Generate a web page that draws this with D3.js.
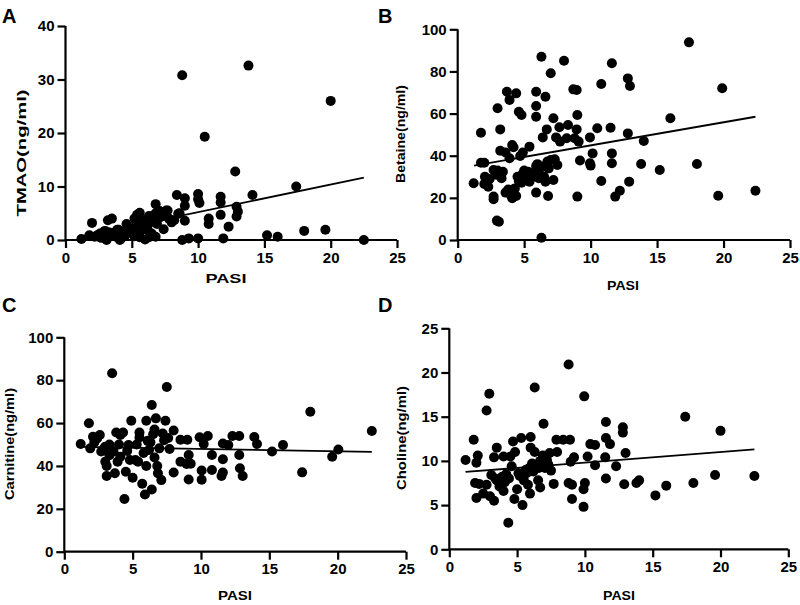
<!DOCTYPE html>
<html><head><meta charset="utf-8">
<script src="https://cdn.jsdelivr.net/npm/d3@7"></script>
<style>body{margin:0;background:#fff}svg{display:block}text{font-family:"Liberation Sans",Arial,sans-serif;font-weight:bold;fill:#000}</style>
</head><body><svg id="c" width="800" height="605"></svg>
<script>
// Panel A: TMAO vs PASI
const pasiA = [1.2,1.8,2.0,2.4,2.6,2.7,3.0,3.1,3.2,3.5,3.6,3.9,4.1,4.4,4.6,5.0,5.4,5.6,5.9,6.0,6.3,6.8,6.8,6.8,7.4,7.7,8.2,8.4,8.8,9.0,9.0,9.0,9.3,10.0,10.0,10.0,10.1,10.8,10.8,11.7,11.7,11.7,11.9,12.3,12.8,12.9,12.9,13.0,14.1,15.2,16.0,17.4,18.0,19.6,8.8,10.5,13.8,20.0,22.5,
 2.5,2.9,3.1,3.6,4.0,4.2,4.9,5.2,6.2,6.9,7.1,7.6,8.6,
 2.6,2.8,3.2,3.3,3.8,4.3,4.5,4.8,5.1,5.3,5.5,5.7,5.8,6.1,6.4,6.5,6.6,6.9,7.2,7.8,8.0,8.5,5.2,4.0,3.0,2.2,6.3,5.6];
const tmao = [0.2,0.9,3.2,0.9,1.2,0.4,1.7,0,3.7,4.0,1.2,1.9,0,1.2,3.0,1.9,4.7,5.1,3.7,0.1,4.5,5.0,6.7,0.6,2.0,5.5,3.7,8.4,0,7.8,6.4,3.6,0.3,8.6,7.6,0.3,6.9,4.0,3.0,8.1,7.0,4.7,0.3,2.5,12.8,6.2,4.4,5.3,8.4,0.9,0.6,10.0,1.7,1.9,30.8,19.3,32.6,26.0,0,
 0.9,1.6,0.5,1.3,1.9,0.3,1.6,0.7,1.9,4.7,5.4,5.5,5.0,
 0.5,1.0,0.8,1.4,0.6,1.5,0.8,2.3,1.3,2.5,3.3,1.8,2.8,2.3,3.3,1.2,4.0,3.0,4.3,4.0,3.3,4.9,4.0,1.0,1.0,0.6,0.5,0.5];
const fitA = [[1.2,0.69],[22.5,11.65]];
const ticksA = [0,10,20,30,40];

// Panel B: Betaine vs PASI
const pasiB = [1.2,1.75,1.75,2.0,2.05,2.0,2.3,2.7,2.7,2.7,3.0,2.95,3.1,3.2,3.2,3.1,3.3,3.4,3.6,3.7,3.6,3.9,3.9,4.0,4.1,4.1,4.2,4.3,4.4,4.4,4.6,4.7,4.8,4.8,4.9,4.9,5.4,5.3,5.4,5.6,5.9,5.9,5.9,5.9,5.9,6.1,6.1,6.3,6.3,6.4,6.4,6.6,6.6,6.7,6.75,6.8,6.85,7.0,7.2,7.2,7.3,7.4,7.5,7.65,7.7,8.0,8.2,8.3,8.7,8.8,8.95,8.95,9.0,9.0,9.1,9.2,9.95,9.95,10.0,10.15,10.5,10.8,10.8,11.5,11.6,11.6,11.6,11.85,12.2,12.8,12.8,12.96,12.9,14.0,13.8,15.2,16.0,17.4,18.0,19.6,19.9,22.4,
 2.4,3.0,3.8,4.5,5.0,5.2,5.7,6.0,6.5,7.0,2.9,4.6];
const betaine = [26.9,50.9,36.7,36.7,30,26.6,25.3,20.6,19.3,33.2,62.5,9.2,8.7,52.5,42.4,31.6,29.3,32.4,41.5,70.4,22.5,66.5,38.8,21.4,19.8,45.1,44,24.5,69.6,20.9,60.9,39.9,59.3,27.2,41.5,31.6,44.3,32.4,27.7,31.6,35.1,70.4,63.6,58.5,22.5,29.3,33.2,87,1.1,48.7,34.8,68,27.7,52.5,37.2,20.9,34,79.1,57.8,28.5,38.3,48.7,35.6,53.5,46.7,85.1,48.3,54.6,71.5,48.3,71.2,52.5,59.3,20.6,46.7,37.7,48.7,36.4,35.3,41.1,53,74,28,53.3,83.9,41.1,36.4,20.6,23.4,76.7,50.6,73.1,27.7,47,36.1,33.2,57.8,93.8,36.1,21,72,23.4,
 29,33,24,30,33,29,30,36,30,38,31,28];
const fitB = [[1.23,35.3],[22.4,58.5]];
const ticksB = [0,20,40,60,80,100];

// Panel C: Carnitine vs PASI
const pasiC = [1.2,1.8,1.9,2.1,2.4,2.6,2.7,3.0,3.1,3.0,3.1,3.3,3.5,3.6,3.7,3.8,3.9,4.1,4.1,4.3,4.4,4.5,4.7,4.8,4.9,5.0,5.2,5.4,5.5,5.5,5.7,5.9,6.0,6.0,6.1,6.2,6.4,6.4,6.5,6.6,6.7,6.8,6.85,6.95,7.1,7.2,7.4,7.5,7.6,7.7,8.0,8.0,8.5,8.5,8.95,9.0,9.1,9.1,9.25,9.9,10.05,10.05,10.2,10.5,10.8,10.8,11.6,11.6,11.6,11.5,12.0,12.3,12.8,12.8,12.85,13.05,13.9,14.1,15.2,16.0,17.4,18.0,19.6,20.05,22.5,
 2.2,2.9,3.3,4.0,4.6,5.3,5.8,6.3,6.6,7.3];
const carnitine = [50.2,59.9,48.2,53.6,52.8,54.4,46.7,49,35.3,42,40,45,83.2,46.7,36.6,55.6,42,54.4,44.3,55.6,24.6,37.3,49.8,42.8,61.1,34.5,42.8,42,55.6,53.3,31.7,26.7,40,61.1,51.7,47.4,29,68.4,54.8,43.9,62.2,40,36.6,48.2,33.4,55.1,61.1,76.8,53,47.9,56.5,36.9,42,52.2,40.9,52.2,33.7,45.1,41,53.4,37.9,33.6,50.2,54,38.1,45.1,50.5,43.1,36.9,35.3,49.8,54,54,45.1,38.9,35.3,53.5,50.2,46.7,49.8,37,65.3,44.3,47.7,56.3,
 51,48,50,50,47,50,46,51,57,52];
const fitC = [[1.2,48.9],[22.5,46.6]];
const ticksC = [0,20,40,60,80,100];

// Panel D: Choline vs PASI
const pasiD = [1.2,1.8,1.9,2.0,2.1,2.0,2.2,2.5,2.75,2.95,2.75,3.0,3.1,3.3,3.3,3.5,3.5,3.7,3.9,4.0,4.0,4.2,4.35,4.5,4.6,4.7,4.8,4.85,5.0,5.1,5.3,5.4,5.5,5.65,5.8,5.95,6.0,6.0,6.1,6.2,6.3,6.3,6.45,6.55,6.7,6.7,6.95,6.9,7.05,7.2,7.4,7.5,7.7,7.9,7.95,8.4,8.8,8.9,8.8,9.05,9.05,8.95,9.2,9.9,9.9,9.95,10.0,10.2,10.4,10.75,10.75,11.55,11.55,11.5,11.55,11.85,12.3,12.8,12.8,12.9,13.0,13.8,14.0,15.2,16.0,17.4,18.0,19.6,20.0,22.5,
 3.4,4.4,5.2,5.9,6.4,6.8,7.3,6.6,5.7,4.1];
const choline = [10.1,12.4,7.5,9.8,10.6,5.8,7.4,6.3,15.7,17.6,7.3,6.0,8.4,10.4,5.5,11.5,7.8,7.1,8.2,10.5,6.6,8.5,3.0,10.5,9.4,12.2,5.7,11.0,6.8,8.6,12.6,5.0,7.8,9.0,7.3,6.3,12.7,11.5,9.7,8.8,18.3,11.0,9.6,7.8,7.0,10.0,14.2,10.6,9.2,10.1,10.9,8.9,7.4,12.4,11.0,12.4,20.9,12.4,7.5,7.3,5.7,9.9,10.4,4.8,6.8,17.3,7.5,10.5,11.9,11.8,9.5,14.4,12.6,10.4,8.0,11.9,9.4,13.8,13.2,7.35,10.9,7.5,7.8,6.1,7.2,15.0,7.5,8.4,13.4,8.3,
 8.0,8.0,8.3,9.2,9.5,9.8,9.6,9.2,8.6,7.6];
const fitD = [[1.2,8.75],[22.5,11.3]];
const ticksD = [0,5,10,15,20,25];

const xTicks = [0,5,10,15,20,25];

const panels = [
  {letter:"A", lx:2, ly:23, x0:65.5, x1:397, yb:240, yt:26, ymax:40, xs:pasiA, ys:tmao, fit:fitA, ticks:ticksA,
   title:"TMAO(ng/ml)", tx:21, ty:153, tl:127, pasiX:226, pasiY:282.5, pl:41},
  {letter:"B", lx:378, ly:23, x0:457.7, x1:790, yb:240, yt:29.3, ymax:100, xs:pasiB, ys:betaine, fit:fitB, ticks:ticksB,
   title:"Betaine(ng/ml)", tx:400, ty:134, tl:98, pasiX:623, pasiY:290, pl:32},
  {letter:"C", lx:2, ly:312, x0:64.3, x1:406, yb:551.7, yt:337.3, ymax:100, xs:pasiC, ys:carnitine, fit:fitC, ticks:ticksC,
   title:"Carnitine(ng/ml)", tx:9, ty:444, tl:112, pasiX:235, pasiY:600, pl:34},
  {letter:"D", lx:378, ly:312, x0:449.3, x1:788.3, yb:549.3, yt:328.3, ymax:25, xs:pasiD, ys:choline, fit:fitD, ticks:ticksD,
   title:"Choline(ng/ml)", tx:401, ty:438, tl:104, pasiX:619, pasiY:600, pl:32}
];

const svg = d3.select("#c");
panels.forEach(p => {
  const x = d3.scaleLinear().domain([0,25]).range([p.x0,p.x1]);
  const y = d3.scaleLinear().domain([0,p.ymax]).range([p.yb,p.yt]);
  const g = svg.append("g");
  const xa = g.append("g").attr("transform",`translate(0,${p.yb})`)
    .call(d3.axisBottom(x).tickValues(xTicks).tickSize(8).tickPadding(4));
  const ya = g.append("g").attr("transform",`translate(${p.x0},0)`)
    .call(d3.axisLeft(y).tickValues(p.ticks).tickSize(8).tickPadding(3));
  [xa,ya].forEach(a=>{
    a.selectAll("path").attr("stroke","#000").attr("stroke-width",2.2);
    a.selectAll("line").attr("stroke","#000").attr("stroke-width",2.2);
    a.selectAll("text").style("font-size","15px").style("font-weight","bold").attr("fill","#000")
      .style("font-family",'"Liberation Sans",Arial,sans-serif');
  });
  xa.select(".domain").attr("d",`M${p.x0},0H${p.x1}`);
  ya.select(".domain").attr("d",`M0,${p.yb}V${p.yt}`);

  g.selectAll("circle.d").data(p.xs.map((v,i)=>[v,p.ys[i]])).enter()
    .append("circle").attr("cx",d=>x(d[0])).attr("cy",d=>y(d[1])).attr("r",5).attr("fill","#000");

  g.append("path").attr("d",d3.line().x(d=>x(d[0])).y(d=>y(d[1]))(p.fit))
    .attr("stroke","#000").attr("stroke-width",1.8).attr("fill","none");

  g.append("text").attr("x",p.pasiX).attr("y",p.pasiY).attr("text-anchor","middle")
    .attr("textLength",p.pl).attr("lengthAdjust","spacingAndGlyphs")
    .style("font-size","13px").text("PASI");
  g.append("text").attr("transform",`translate(${p.tx},${p.ty}) rotate(-90)`)
    .attr("text-anchor","middle").attr("dy","0.35em")
    .attr("textLength",p.tl).attr("lengthAdjust","spacingAndGlyphs")
    .style("font-size","13.5px").text(p.title);
  g.append("text").attr("x",p.lx).attr("y",p.ly).style("font-size","20px").text(p.letter);
});
</script></body></html>
